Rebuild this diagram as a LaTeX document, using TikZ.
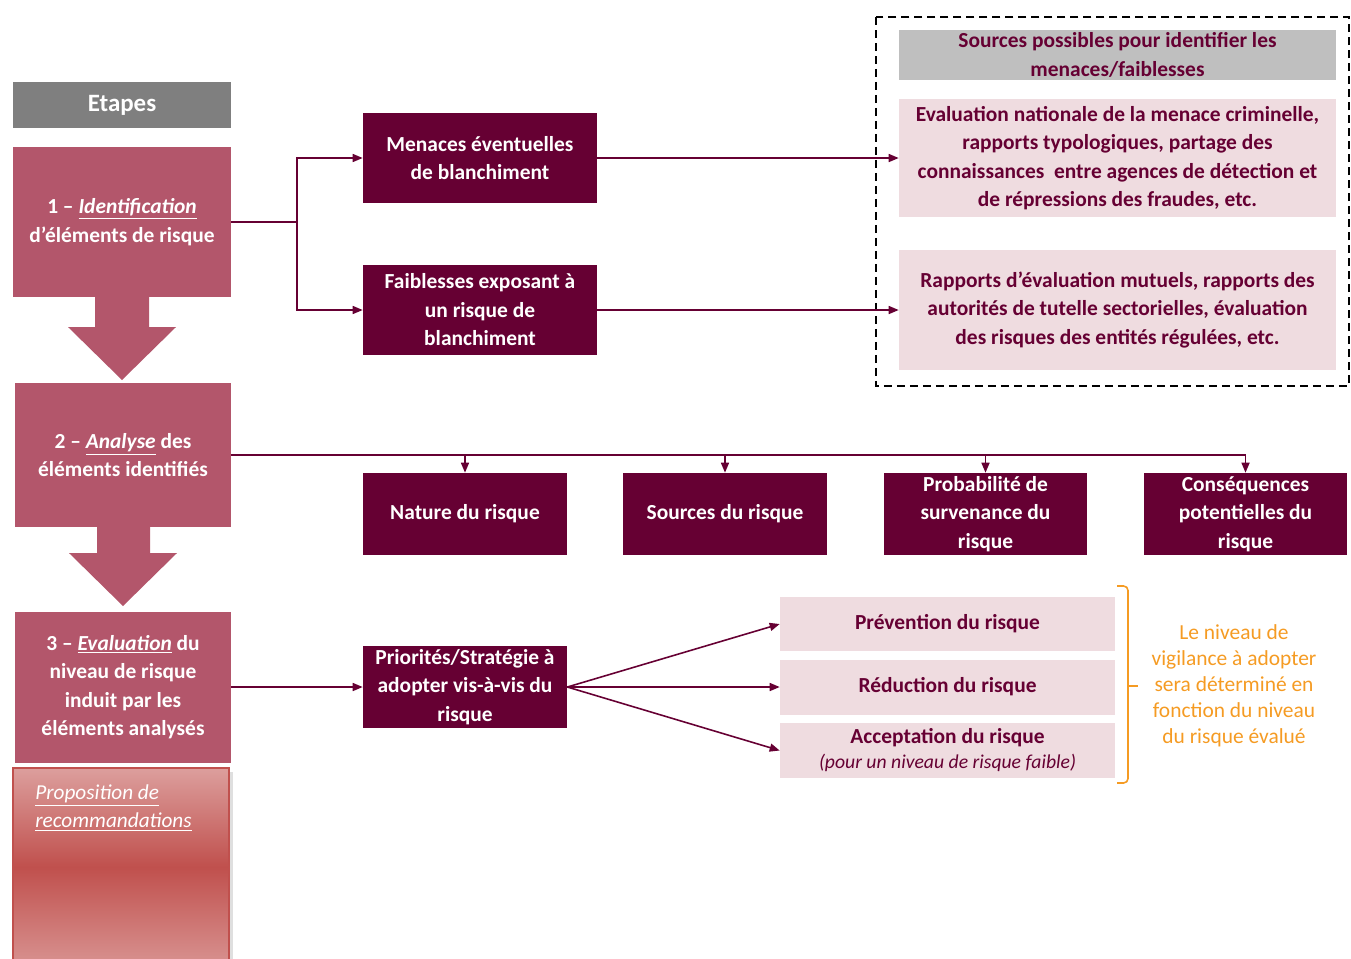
\documentclass[tikz,border=0pt]{standalone}
\usepackage{fontspec}
\setmainfont{Carlito}
\usepackage{tikz}
\usetikzlibrary{arrows.meta,shadows}
\definecolor{stagec}{HTML}{B3566B}
\definecolor{headc}{HTML}{7F7F7F}
\definecolor{darkc}{HTML}{660033}
\definecolor{softc}{HTML}{EFDCE0}
\definecolor{greyc}{HTML}{BFBFBF}
\definecolor{bracec}{HTML}{F59B23}
\definecolor{propc}{HTML}{C0504D}
\tikzset{
  txt/.style={font=\fontsize{12.2}{16.2}\selectfont\bfseries, align=center, inner sep=0pt},
  stage/.style={txt, fill=stagec, text=white, minimum width=4.32cm},
  dark/.style={txt, fill=darkc, text=white},
  soft/.style={txt, fill=softc, text=darkc, minimum width=8.74cm},
  opt/.style={txt, fill=softc, text=darkc, minimum width=6.7cm, minimum height=1.1cm},
  line/.style={draw=darkc, line width=0.9pt},
  link/.style={line, -{Triangle[length=2mm,width=1.6mm]}},
  bigarrow/.style={fill=stagec},
}
\begin{document}
\begin{tikzpicture}[x=0.02cm, y=-0.02cm]
  \useasboundingbox (0,0) rectangle (1351,958);

  % left column: the steps
  \node[txt, fill=headc, text=white, minimum width=4.36cm, minimum height=0.92cm,
        font=\fontsize{14.2}{16}\selectfont\bfseries] (etapes) at (122,105) {Etapes};
  \node[stage, minimum width=4.36cm, minimum height=3.02cm] (s1) at (122,222)
    {1 -- \underline{\textit{Identification}}\\d’éléments de risque};
  \node[stage, minimum height=2.88cm] (s2) at (123,455)
    {2 -- \underline{\textit{Analyse}} des\\éléments identifiés};
  \node[stage, minimum height=3.02cm] (s3) at (123,687)
    {3 -- \underline{\textit{Evaluation}} du\\niveau de risque\\induit par les\\éléments analysés};
  \fill[bigarrow] (95,297) -- (149,297) -- (149,327) -- (176,327) -- (122,380)
    -- (68,327) -- (95,327) -- cycle;
  \fill[bigarrow] (97,526) -- (150,526) -- (150,553) -- (177,553) -- (123,606)
    -- (69,553) -- (97,553) -- cycle;

  \shade[top color=propc!55!white, bottom color=propc!62!white, middle color=propc,
         draw=propc, line width=1.2pt, drop shadow={opacity=0.25}]
    (13,768) rectangle (229,966);
  \node[anchor=north west, align=left, text=white, inner sep=0pt,
        font=\fontsize{12.1}{16.2}\selectfont\itshape] (prop) at (35,784)
    {\underline{Proposition de}\\\underline{recommandations}};

  % step 1: threats and weaknesses
  \node[dark, minimum width=4.68cm, minimum height=1.8cm] (men) at (480,158)
    {Menaces éventuelles\\de blanchiment};
  \node[dark, minimum width=4.68cm, minimum height=1.8cm] (fai) at (480,310)
    {Faiblesses exposant à\\un risque de\\blanchiment};
  \coordinate (split) at (297,222);
  \draw[line] (s1.east) -- (split);
  \draw[link] (split) |- (men.west);
  \draw[link] (split) |- (fai.west);

  % possible sources
  \draw[line width=0.8pt, dash pattern=on 0.16cm off 0.1cm] (876,17) rectangle (1349,386);
  \node[soft, fill=greyc, minimum height=1.0cm] (srchead) at (1117.5,55)
    {Sources possibles pour identifier les\\menaces/faiblesses};
  \node[soft, minimum height=2.38cm] (eval) at (1117.5,158)
    {Evaluation nationale de la menace criminelle,\\rapports typologiques, partage des\\connaissances\ \ entre agences de détection et\\de répressions des fraudes, etc.};
  \node[soft, minimum height=2.4cm] (rap) at (1117.5,310)
    {Rapports d’évaluation mutuels, rapports des\\autorités de tutelle sectorielles, évaluation\\des risques des entités régulées, etc.};
  \draw[link] (men.east) -- (eval.west);
  \draw[link] (fai.east) -- (rap.west);

  % step 2: analysis
  \foreach \n/\x/\w/\t in {nat/465/4.08/{Nature du risque},
                           sou/725/4.08/{Sources du risque},
                           pro/985.5/4.06/{Probabilité de\\survenance du\\risque},
                           con/1245.5/4.06/{Conséquences\\potentielles du\\risque}}{
    \node[dark, minimum width=\w cm, minimum height=1.64cm] (\n) at (\x,514) {\t};
  }
  \draw[line] (s2.east) -- (con.north |- s2.east);
  \foreach \n in {nat,sou,pro,con}{
    \draw[link] (\n.north |- s2.east) -- (\n.north);
  }

  % step 3: evaluation
  \node[dark, minimum width=4.08cm, minimum height=1.64cm] (pri) at (465,687)
    {Priorités/Stratégie à\\adopter vis-à-vis du\\risque};
  \draw[link] (s3.east) -- (pri.west);
  \node[opt, minimum height=1.08cm] (prev) at (947.5,624) {Prévention du risque};
  \node[opt] (red) at (947.5,687) {Réduction du risque};
  \node[opt] (acc) at (947.5,750.5)
    {Acceptation du risque\\[-2pt]{\fontsize{11.2}{13}\selectfont\mdseries\itshape (pour un niveau de risque faible)}};
  \foreach \n in {prev,red,acc}{
    \draw[link] (pri.east) -- (\n.west);
  }

  % bracket and note
  \draw[bracec, line width=0.9pt, rounded corners=2.5pt]
    (1117,586) -- (1128,586) -- (1128,686) -- (1128,783) -- (1117,783);
  \draw[bracec, line width=0.9pt] (1128,686) -- (1138,686);
  \node[align=center, text=bracec, inner sep=0pt,
        font=\fontsize{12.2}{14.8}\selectfont] (note) at (1234,686)
    {Le niveau de\\vigilance à adopter\\sera déterminé en\\fonction du niveau\\du risque évalué};
\end{tikzpicture}
\end{document}
